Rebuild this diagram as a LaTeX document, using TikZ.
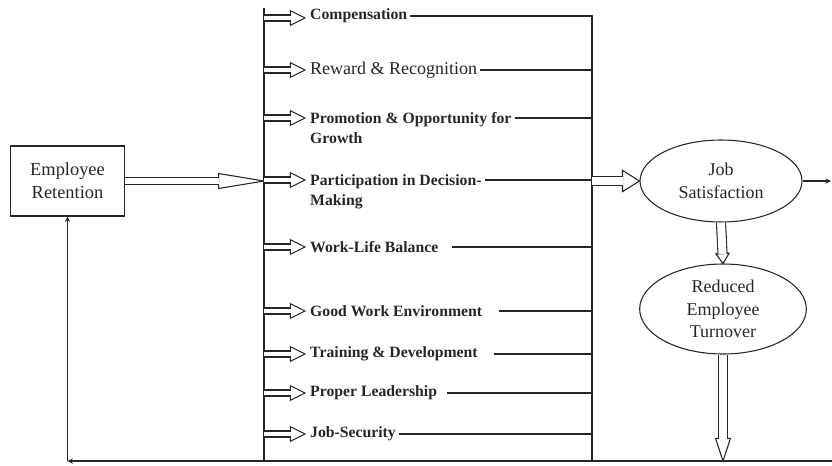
\documentclass[tikz,border=0pt]{standalone}
\usepackage{fontspec}
\setmainfont{Liberation Serif}
\usetikzlibrary{shapes.geometric, calc}
\tikzset{>=stealth}
\tikzset{
  item/.style={anchor=west, inner sep=2pt, align=left, font=\fontsize{11.8}{15}\selectfont\bfseries},
  oval/.style={draw, ellipse, inner sep=0pt, align=center, font=\fontsize{13.5}{17}\selectfont},
}
% hollow block arrow: {gap}{head length}{head half width}{from}{to}
\newcommand{\hollowarrow}[5]{%
  \draw[fill=white, line join=miter] (#5) -- ($(#5)!#2!(#4)!#3!90:(#4)$) -- ($(#5)!#2!(#4)!#3!-90:(#4)$) -- cycle;
  \draw[double, double distance=#1, shorten >=#2-0.6pt] (#4) -- (#5);
}

\begin{document}
\begin{tikzpicture}[x=0.75pt, y=-0.75pt, line width=0.8pt, color=black!85]
    \useasboundingbox (0,0) rectangle (832,465);

    % the two bars
    \coordinate (lt) at (264,8);
    \coordinate (lb) at (264,461);
    \coordinate (rt) at (592,16);
    \coordinate (rb) at (592,461);
    \draw (lt) -- (lb);

    \node[draw, minimum width=86pt, minimum height=52.5pt, align=center, font=\fontsize{13.8}{17}\selectfont] (ret) at (67.5,181) {Employee\\Retention};
    \coordinate (rin) at (ret.east -| lt);
    \hollowarrow{4.8pt}{34pt}{5.6pt}{ret.east}{rin}

    % factors
    \node[item] (comp) at (307,16) {Compensation};
    \node[item, font=\fontsize{13.5}{15}\selectfont] (rew) at (307,70) {Reward \& Recognition};
    \node[item, anchor=north west] (prom) at (307,109) {Promotion \& Opportunity for\\Growth};
    \node[item, anchor=north west] (part) at (307,171) {Participation in Decision-\\Making};
    \node[item] (wlb) at (307,247) {Work-Life Balance};
    \node[item] (env) at (307,311) {Good Work Environment};
    \node[item] (train) at (307,354) {Training \& Development};
    \node[item] (lead) at (307,393) {Proper Leadership};
    \node[item] (sec) at (307,434) {Job-Security};

    \foreach \yy [count=\i] in {18,70,118,180,247,311,354,393,434} {
        \coordinate (in\i) at (264,\yy);
        \coordinate (tip\i) at (305,\yy);
        \hollowarrow{3.7pt}{11pt}{5.5pt}{in\i}{tip\i}
    }

    \draw (comp.east) -- (comp.east -| rt) -- (rb);
    \draw (rew.east) -- (rew.east -| rt);
    \draw (tip3 -| prom.east) -- (tip3 -| rt);
    \draw (tip4 -| part.east) -- (tip4 -| rt);
    \draw[shorten <=8pt] (wlb.east) -- (wlb.east -| rt);
    \draw[shorten <=10pt] (env.east) -- (env.east -| rt);
    \draw[shorten <=10pt] (train.east) -- (train.east -| rt);
    \draw[shorten <=5pt] (lead.east) -- (lead.east -| rt);
    \draw (sec.east) -- (sec.east -| rt);

    % outcomes
    \node[oval, minimum width=121.5pt, minimum height=61.5pt] (js) at (721,181) {Job\\Satisfaction};
    \node[oval, minimum width=125pt, minimum height=67.5pt] (red) at (723,309) {Reduced\\Employee\\Turnover};
    \coordinate (jin) at (js.west -| rt);
    \hollowarrow{6.3pt}{12.75pt}{8pt}{jin}{js.west}
    \hollowarrow{6pt}{7.5pt}{5pt}{js.south}{red.north}

    \coordinate (out) at (831,181);
    \draw[->] (js.east) -- (out);

    % feedback loop
    \coordinate (br) at (832,461);
    \coordinate (bl) at (ret.south |- br);
    \coordinate (rd) at (red.south |- br);
    \draw (lb) -- (br);
    \hollowarrow{5.3pt}{17pt}{5.6pt}{red.south}{rd}
    \draw[->] (br) -- (bl);
    \draw[->] (bl) -- (ret.south);
\end{tikzpicture}
\end{document}
